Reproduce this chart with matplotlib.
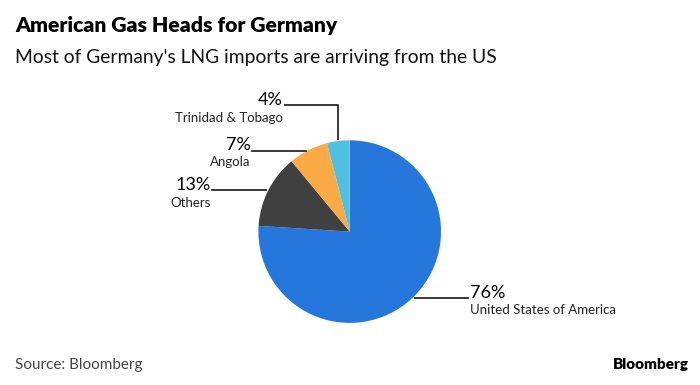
import matplotlib
matplotlib.use("Agg")
import matplotlib.pyplot as plt
from matplotlib.lines import Line2D

categories = ["United States of America", "Others", "Angola", "Trinidad & Tobago"]
values = [76, 13, 7, 4]
pct_labels = ["76%", "13%", "7%", "4%"]
colors = ["#2577dc", "#404040", "#fbab45", "#4fc0e2"]

W, H = 700, 385
fig = plt.figure(figsize=(W / 100, H / 100), dpi=100)
fig.patch.set_facecolor("white")

FONT = ["Lato", "DejaVu Sans"]

def px(x, y):
    return x / W, 1 - y / H

# pie axes
cx, cy, r = 349.7, 231.6, 91.3
ax = fig.add_axes([(cx - r) / W, (H - cy - r) / H, 2 * r / W, 2 * r / H])
ax.pie(values, colors=colors, startangle=90, counterclock=False,
       wedgeprops=dict(linewidth=0))
ax.set_xlim(-1, 1)
ax.set_ylim(-1, 1)
ax.set_aspect("auto")
ax.axis("off")

# titles
fig.text(*px(15, 32), "American Gas Heads for Germany", fontsize=15.2,
         fontweight="heavy", family=FONT, va="baseline", color="#000000")
fig.text(*px(15, 63), "Most of Germany's LNG imports are arriving from the US",
         fontsize=13.9, family=FONT, va="baseline", color="#111111")

# footer
fig.text(*px(15, 369), "Source: Bloomberg", fontsize=11, family=FONT,
         va="baseline", color="#444444")
fig.text(*px(689, 369), "Bloomberg", fontsize=11, family=FONT,
         fontweight="heavy", va="baseline", ha="right", color="#000000")

lc = "#2a2a2a"
lw = 1.3

def line(xs, ys):
    fig.add_artist(Line2D([x / W for x in xs], [1 - y / H for y in ys],
                          color=lc, lw=lw, transform=fig.transFigure))

# United States
line([415, 468], [298, 298])
fig.text(*px(470, 298), pct_labels[0], fontsize=13, family=FONT, va="baseline", ha="left")
fig.text(*px(470, 314), categories[0], fontsize=9.5, family=FONT, va="baseline", ha="left", color="#222222")

# Others
line([212, 266], [190, 190])
fig.text(*px(211, 190), pct_labels[1], fontsize=13, family=FONT, va="baseline", ha="right")
fig.text(*px(211, 207), categories[1], fontsize=9.5, family=FONT, va="baseline", ha="right", color="#222222")

# Angola
line([252, 306], [150.5, 150.5])
fig.text(*px(251, 150.5), pct_labels[2], fontsize=13, family=FONT, va="baseline", ha="right")
fig.text(*px(250, 166), categories[2], fontsize=9.5, family=FONT, va="baseline", ha="right", color="#222222")

# Trinidad & Tobago
line([285, 338, 338], [105, 105, 139])
fig.text(*px(283, 105), pct_labels[3], fontsize=13, family=FONT, va="baseline", ha="right")
fig.text(*px(283, 122), categories[3], fontsize=9.5, family=FONT, va="baseline", ha="right", color="#222222")

fig.savefig("out.png", dpi=100, facecolor="white")
